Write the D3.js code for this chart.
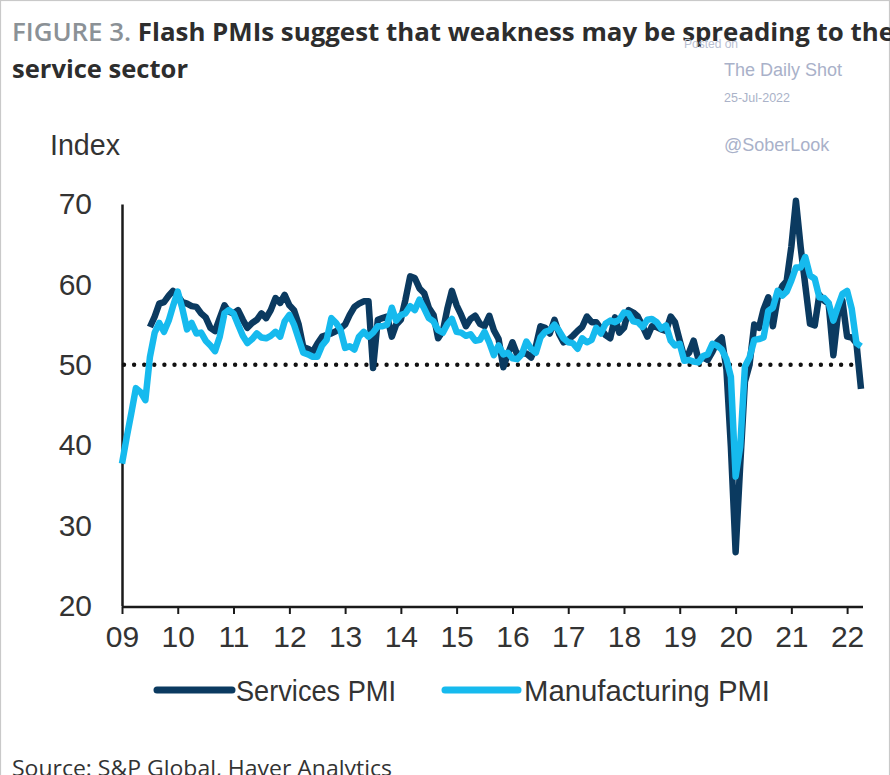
<!DOCTYPE html>
<html><head><meta charset="utf-8">
<script src="https://cdn.jsdelivr.net/npm/d3@7"></script>
<style>
html,body{margin:0;padding:0;background:#fff;}
svg{display:block;}
</style></head>
<body>
<script>
// ---- data (monthly, first month = April 2009) ----
const firstMonth = "2009-04";
const seriesNames = ["Services PMI", "Manufacturing PMI"];
const yTicks = [20, 30, 40, 50, 60, 70];
const xTickYears = [2009,2010,2011,2012,2013,2014,2015,2016,2017,2018,2019,2020,2021,2022];
const xTickLabels = ["09","10","11","12","13","14","15","16","17","18","19","20","21","22"];

// Manufacturing PMI, Apr 2009 .. Jul 2022
const manufacturing = [
  37.7,40.9,44.0,47.1,46.6,45.6,51.0,54.0,55.2,
  54.1,55.5,57.3,59.1,57.0,54.4,55.2,53.9,54.0,53.0,52.4,51.7,
  53.5,56.4,56.8,56.4,55.0,53.6,52.7,53.2,53.9,53.4,53.3,53.6,
  54.1,53.5,55.4,56.2,55.0,53.2,51.5,51.3,51.0,51.0,52.4,53.1,
  55.8,55.2,54.4,52.1,52.3,51.9,53.5,54.1,53.5,54.0,54.8,54.8,
  55.0,57.1,55.5,56.2,56.4,57.3,56.8,58.1,57.0,55.8,55.4,54.3,
  54.0,55.1,55.7,54.1,54.0,53.6,53.8,53.0,53.1,54.1,52.8,51.2,
  52.4,51.3,51.5,50.8,50.7,51.3,52.9,52.0,51.5,53.4,54.1,54.3,
  55.0,54.2,53.3,52.8,52.7,52.0,53.3,52.8,53.1,54.6,53.9,55.1,
  55.5,55.3,55.6,56.5,56.4,55.4,55.3,54.7,55.6,55.7,55.3,54.5,
  54.9,53.0,52.4,52.6,50.5,50.6,50.4,50.3,51.1,51.3,52.6,52.4,
  51.9,50.7,48.5,36.1,39.8,49.8,50.9,53.1,53.2,53.4,56.7,57.1,
  59.2,58.6,59.1,60.5,62.1,62.1,63.4,61.1,60.7,58.4,58.3,57.7,
  55.5,57.3,58.8,59.2,57.0,52.7,52.3
];

// Services PMI, Apr 2009 .. Jul 2022 (series begins Oct 2009)
const services = [
  null,null,null,null,null,null,54.7,56.0,57.6,
  57.8,58.6,59.2,58.6,57.8,57.6,57.3,57.2,56.4,55.9,54.6,54.2,
  55.8,57.4,56.6,56.4,56.8,55.6,54.6,55.2,55.6,56.4,55.8,56.8,
  58.3,57.7,58.7,57.4,56.8,55.0,52.2,52.0,51.6,52.6,53.5,53.7,
  53.9,54.2,54.5,55.0,56.2,57.2,57.6,57.9,57.9,49.6,55.6,55.8,
  56.0,53.5,55.0,55.6,58.1,61.0,60.8,59.5,58.9,57.1,56.2,53.3,
  54.2,57.1,59.2,57.4,56.2,54.8,55.7,56.1,55.1,54.8,56.1,54.3,
  53.2,49.7,51.3,52.8,51.3,51.4,51.4,50.9,52.3,54.8,54.6,53.9,
  55.6,53.8,52.8,53.1,53.6,54.2,54.7,56.0,55.3,55.3,54.5,53.7,
  53.3,55.9,54.0,54.6,56.8,56.5,56.0,54.8,53.5,54.8,54.7,54.4,
  54.2,56.0,55.3,53.0,50.9,51.5,53.0,50.7,50.9,50.6,51.6,52.8,
  53.4,49.4,39.8,26.7,37.5,47.9,50.0,55.0,54.6,56.9,58.4,54.8,
  58.3,59.8,60.4,64.7,70.4,64.6,59.9,55.1,54.9,58.7,58.0,57.6,
  51.2,56.5,58.0,53.5,53.4,52.7,47.0
];

const referenceLevel = 50;

// ---- drawing ----
const W = 890, H = 775;
const colors = {services: "#0b3a60", manufacturing: "#16baee"};
const narrow = "'Liberation Sans Narrow','Arial Narrow','Liberation Sans',sans-serif";

const svg = d3.select("body").append("svg").attr("width", W).attr("height", H);

svg.append("rect").attr("x",0.5).attr("y",0.5).attr("width",W-1).attr("height",H+10)
  .attr("fill","#fff").attr("stroke","#c9c9c9").attr("stroke-width",1.2);

const parseM = d3.timeParse("%Y-%m");
const start = parseM(firstMonth);
const dateOf = i => d3.timeMonth.offset(start, i);
const last = dateOf(manufacturing.length - 1);

const x = d3.scaleTime().domain([start, last]).range([122, 861]);
const y = d3.scaleLinear().domain([20, 70]).range([606, 204]);

// title
const title = svg.append("text").attr("x", 12).attr("y", 41)
  .attr("font-family", "'Open Sans','Noto Sans',sans-serif").attr("font-size", 25)
  .attr("textLength", 882).attr("lengthAdjust", "spacingAndGlyphs");
title.append("tspan").attr("fill", "#8b9196").attr("font-weight", 600).text("FIGURE 3. ");
title.append("tspan").attr("fill", "#2d2d2d").attr("font-weight", 700)
  .text("Flash PMIs suggest that weakness may be spreading to the");
svg.append("text").attr("x", 12).attr("y", 78)
  .attr("font-family", "'Open Sans','Noto Sans',sans-serif").attr("font-size", 25)
  .attr("font-weight", 700).attr("fill", "#2d2d2d")
  .attr("textLength", 176).attr("lengthAdjust", "spacingAndGlyphs").text("service sector");

// watermark
const wm = svg.append("g").attr("font-family", "'Liberation Sans',Arial,sans-serif");
wm.append("text").attr("x", 684).attr("y", 48).attr("font-size", 12).attr("fill", "#b9c0d2").text("Posted on");
wm.append("text").attr("x", 724).attr("y", 76).attr("font-size", 18).attr("fill", "#a9b1c9").text("The Daily Shot");
wm.append("text").attr("x", 724).attr("y", 102).attr("font-size", 12.5).attr("fill", "#aab2c8").text("25-Jul-2022");
wm.append("text").attr("x", 724).attr("y", 151).attr("font-size", 18).attr("fill", "#a9b1c9").text("@SoberLook");

// axis title
svg.append("text").attr("x", 50).attr("y", 155).attr("font-family", narrow)
  .attr("font-size", 30).attr("fill", "#333").attr("textLength", 70)
  .attr("lengthAdjust","spacingAndGlyphs").text("Index");

// y axis
const yAxis = svg.append("g").attr("transform", "translate(122,0)")
  .call(d3.axisLeft(y).tickValues(yTicks).tickSize(0).tickSizeOuter(0).tickPadding(30).tickFormat(d3.format("d")));
yAxis.select(".domain").attr("stroke", "#1a1a1a").attr("stroke-width", 2.5);
yAxis.selectAll("text").attr("font-family", narrow).attr("font-size", 30).attr("fill", "#333");

// x axis
const xTickDates = xTickYears.map(yr => new Date(yr, start.getMonth(), 1));
const xAxis = svg.append("g").attr("transform", "translate(0,607)")
  .call(d3.axisBottom(x).tickValues(xTickDates).tickSizeOuter(0).tickSize(7).tickPadding(12)
    .tickFormat((d, i) => xTickLabels[i]));
xAxis.select(".domain").attr("stroke", "#1a1a1a").attr("stroke-width", 2.5)
  .attr("d", `M122,0H863`);
xAxis.selectAll(".tick line").attr("stroke", "#1a1a1a").attr("stroke-width", 2);
xAxis.selectAll("text").attr("font-family", narrow).attr("font-size", 30).attr("fill", "#333");

// reference dotted line at 50
svg.append("line").attr("x1", 124).attr("x2", 856)
  .attr("y1", y(referenceLevel)).attr("y2", y(referenceLevel))
  .attr("stroke", "#111").attr("stroke-width", 4.4)
  .attr("stroke-linecap", "round").attr("stroke-dasharray", "0,10.1");

// lines
const line = d3.line().defined(d => d != null)
  .x((d, i) => x(dateOf(i))).y(d => y(d));
svg.append("path").datum(services).attr("d", line)
  .attr("fill", "none").attr("stroke", colors.services).attr("stroke-width", 6.5)
  .attr("stroke-linejoin", "round").attr("stroke-linecap", "butt");
svg.append("path").datum(manufacturing).attr("d", line)
  .attr("fill", "none").attr("stroke", colors.manufacturing).attr("stroke-width", 6.5)
  .attr("stroke-linejoin", "round").attr("stroke-linecap", "butt");

// legend
const legend = [
  {name: seriesNames[0], color: colors.services, x1: 157, x2: 232, tx: 236, tl: 160},
  {name: seriesNames[1], color: colors.manufacturing, x1: 445, x2: 518, tx: 524, tl: 246}
];
const lg = svg.append("g");
legend.forEach(l => {
  lg.append("line").attr("x1", l.x1).attr("x2", l.x2).attr("y1", 690).attr("y2", 690)
    .attr("stroke", l.color).attr("stroke-width", 7).attr("stroke-linecap", "round");
  lg.append("text").attr("x", l.tx).attr("y", 701).attr("font-family", narrow)
    .attr("font-size", 30).attr("fill", "#333").attr("textLength", l.tl)
    .attr("lengthAdjust", "spacingAndGlyphs").text(l.name);
});

// source
svg.append("text").attr("x", 12).attr("y", 776)
  .attr("font-family", "'Open Sans','Noto Sans',sans-serif").attr("font-size", 21)
  .attr("fill", "#333").attr("textLength", 380).attr("lengthAdjust", "spacingAndGlyphs")
  .text("Source: S&P Global, Haver Analytics");
</script>
</body></html>
